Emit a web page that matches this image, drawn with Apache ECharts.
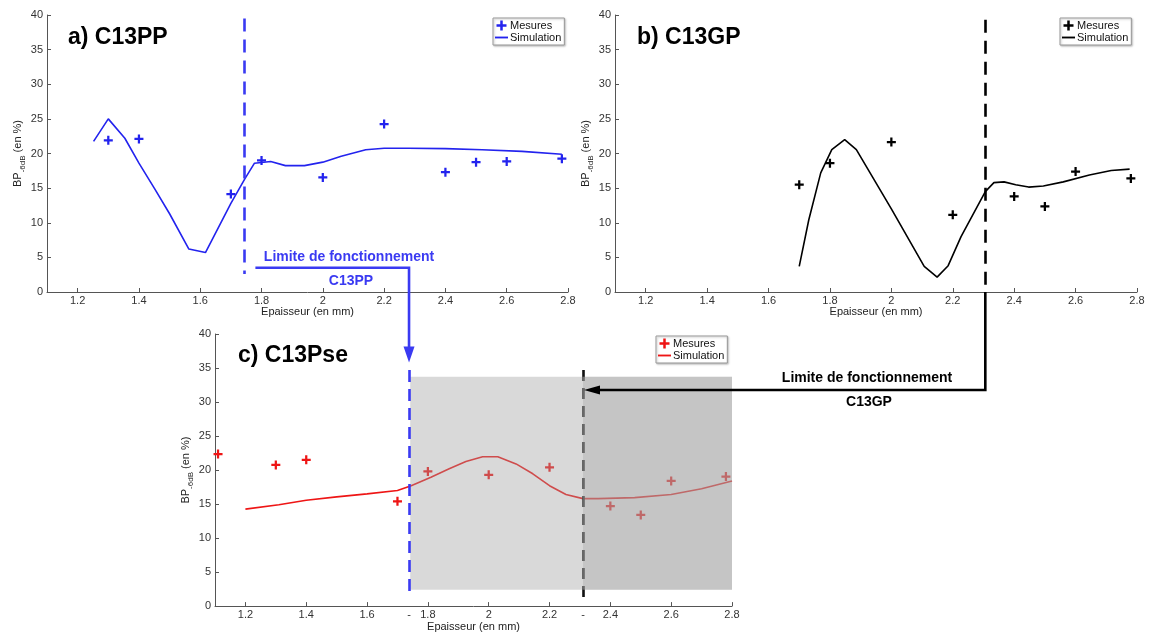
<!DOCTYPE html>
<html><head><meta charset="utf-8">
<script src="https://cdn.jsdelivr.net/npm/echarts@6/dist/echarts.min.js"></script>
<style>html,body{margin:0;padding:0;background:#fff}#c{width:1149px;height:633px}</style>
</head><body><div id="c"></div>
<script>
// ---- tick labels ----
const xTicks = [1.2, 1.4, 1.6, 1.8, 2.0, 2.2, 2.4, 2.6, 2.8];
const cExtraLabels = [1.738, 2.31];
// ---- chart a) C13PP ----
const aMesX = [1.3, 1.4, 1.7, 1.8, 2.0, 2.2, 2.4, 2.5, 2.6, 2.78];
const aMesY = [21.9, 22.1, 14.15, 19.0, 16.55, 24.25, 17.3, 18.75, 18.85, 19.25];
const aSimX = [1.252, 1.3, 1.354, 1.40, 1.45, 1.50, 1.563, 1.617, 1.70, 1.745, 1.777, 1.83, 1.878, 1.94, 2.0, 2.06, 2.14, 2.2, 2.28, 2.4, 2.52, 2.65, 2.78];
const aSimY = [21.75, 25.0, 22.2, 18.6, 15.0, 11.3, 6.2, 5.7, 12.8, 16.3, 18.6, 18.85, 18.25, 18.25, 18.75, 19.6, 20.55, 20.75, 20.75, 20.7, 20.55, 20.3, 19.9];
const aLimit = 1.745;
// ---- chart b) C13GP ----
const bMesX = [1.7, 1.8, 2.0, 2.2, 2.4, 2.5, 2.6, 2.78];
const bMesY = [15.5, 18.6, 21.65, 11.15, 13.8, 12.35, 17.4, 16.4];
const bSimX = [1.70, 1.731, 1.77, 1.806, 1.848, 1.886, 2.0, 2.107, 2.149, 2.185, 2.227, 2.306, 2.334, 2.367, 2.405, 2.447, 2.495, 2.56, 2.645, 2.716, 2.776];
const bSimY = [3.7, 10.4, 17.2, 20.55, 22.0, 20.55, 12.0, 3.7, 2.15, 3.8, 8.0, 14.5, 15.8, 15.9, 15.5, 15.15, 15.3, 15.9, 16.9, 17.55, 17.75];
const bLimit = 2.306;
// ---- chart c) C13Pse ----
const cMesX = [1.11, 1.3, 1.4, 1.7, 1.8, 2.0, 2.2, 2.4, 2.5, 2.6, 2.78];
const cMesY = [22.35, 20.75, 21.5, 15.4, 19.8, 19.3, 20.4, 14.7, 13.4, 18.4, 19.05];
const cSimX = [1.2, 1.31, 1.4, 1.5, 1.6, 1.7, 1.745, 1.81, 1.87, 1.925, 1.98, 2.03, 2.09, 2.145, 2.2, 2.254, 2.31, 2.36, 2.48, 2.6, 2.7, 2.8];
const cSimY = [14.25, 14.9, 15.55, 16.05, 16.5, 17.0, 17.7, 18.95, 20.2, 21.25, 21.95, 21.95, 20.9, 19.45, 17.7, 16.4, 15.8, 15.8, 15.95, 16.4, 17.25, 18.4];
const cLimitPP = 1.738, cLimitGP = 2.31;
const cZoneBottom = 2.4, cZoneTop = 33.7;

const FONT = '"Liberation Sans", Arial, sans-serif';
const BLUE = '#2323ee', BLUE2 = '#3a3af2', RED = '#ee1515', BLACK = '#000';
const PLUS = 'path://M3,0h2v3h3v2h-3v3h-2v-3h-3v-2h3z';
const LINEICON = 'path://M0,0h14v2h-14z';
const zip = (xs, ys) => xs.map((x, i) => [x, ys[i]]);

const grids = [
  {left: 47, top: 15, width: 521, height: 277},
  {left: 615, top: 15, width: 522, height: 277},
  {left: 215, top: 334, width: 517, height: 274}
];
function xAx(i, extra) {
  const labVals = extra ? xTicks.concat(extra) : xTicks;
  return {
    type: 'value', gridIndex: i, min: 1.1, max: 2.8,
    name: 'Epaisseur (en mm)', nameLocation: 'middle', nameGap: 13,
    nameTextStyle: {fontFamily: FONT, fontSize: 11, color: '#222'},
    axisLine: {lineStyle: {color: '#555', width: 1}},
    axisTick: {inside: true, length: 4, customValues: xTicks, lineStyle: {color: '#555'}},
    axisLabel: {customValues: labVals, margin: 3, fontFamily: FONT, fontSize: 11, color: '#333',
      formatter: v => (extra && extra.some(e => Math.abs(e - v) < 1e-6)) ? '-' : String(+v.toFixed(1))},
    splitLine: {show: false}
  };
}
function yAx(i, gap) {
  return {
    type: 'value', gridIndex: i, min: 0, max: 40, interval: 5,
    name: '{m|BP}{s|-6dB}{m| (en %)}', nameLocation: 'middle', nameGap: gap,
    nameTextStyle: {fontFamily: FONT, color: '#222', rich: {
      m: {fontFamily: FONT, fontSize: 11, lineHeight: 18, color: '#222'},
      s: {fontFamily: FONT, fontSize: 8, lineHeight: 9, verticalAlign: 'bottom', color: '#222'}}},
    axisLine: {show: true, lineStyle: {color: '#555', width: 1}},
    axisTick: {show: true, inside: true, length: 4, lineStyle: {color: '#555'}},
    axisLabel: {margin: 4, fontFamily: FONT, fontSize: 11, color: '#333'},
    splitLine: {show: false}
  };
}
function legend(left, top, suffix) {
  return {
    left, top, orient: 'vertical', padding: [2, 3, 2, 2], itemGap: 1,
    itemWidth: 13, itemHeight: 10, borderColor: '#999', borderWidth: 1, backgroundColor: '#fff',
    shadowColor: 'rgba(0,0,0,0.25)', shadowBlur: 2, shadowOffsetX: 1, shadowOffsetY: 1,
    data: [{name: 'Mesures' + suffix, icon: PLUS}, {name: 'Simulation' + suffix, icon: LINEICON}],
    formatter: n => n.split('_')[0],
    textStyle: {fontFamily: FONT, fontSize: 11, color: '#111', padding: [0, 0, 0, -3]},
    selectedMode: false
  };
}
function vline(x, y0, y1, color, width, dash, z) {
  return {silent: true, symbol: 'none', z: z || 5, animation: false, label: {show: false},
    lineStyle: {color, width, type: dash, opacity: 1},
    data: [[{coord: [x, y0]}, {coord: [x, y1]}]]};
}

const option = {
  animation: false,
  title: [
    {text: 'a) C13PP', left: 63, top: 21, textStyle: {fontFamily: FONT, fontSize: 23, fontWeight: 'bold', color: '#000'}},
    {text: 'b) C13GP', left: 632, top: 21, textStyle: {fontFamily: FONT, fontSize: 23, fontWeight: 'bold', color: '#000'}},
    {text: 'c) C13Pse', left: 233, top: 339, textStyle: {fontFamily: FONT, fontSize: 23, fontWeight: 'bold', color: '#000'}}
  ],
  grid: grids,
  xAxis: [xAx(0), xAx(1), xAx(2, cExtraLabels)],
  yAxis: [yAx(0, 20), yAx(1, 18), yAx(2, 19)],
  legend: [legend(493, 18, '_a'), legend(1060, 18, '_b'), legend(656, 336, '_c')],
  series: [
    {name: 'Simulation_a', type: 'line', xAxisIndex: 0, yAxisIndex: 0, data: zip(aSimX, aSimY), symbol: 'none',
      lineStyle: {color: BLUE, width: 1.6}, itemStyle: {color: BLUE},
      markLine: vline(aLimit, 39.5, 2.6, BLUE2, 2.6, [13, 8])},
    {name: 'Mesures_a', type: 'scatter', xAxisIndex: 0, yAxisIndex: 0, data: zip(aMesX, aMesY), symbol: PLUS, symbolSize: 9,
      itemStyle: {color: BLUE, opacity: 1}},
    {name: 'Simulation_b', type: 'line', xAxisIndex: 1, yAxisIndex: 1, data: zip(bSimX, bSimY), symbol: 'none',
      lineStyle: {color: BLACK, width: 1.6}, itemStyle: {color: BLACK},
      markLine: vline(bLimit, 39.3, 0, BLACK, 2.6, [13, 8])},
    {name: 'Mesures_b', type: 'scatter', xAxisIndex: 1, yAxisIndex: 1, data: zip(bMesX, bMesY), symbol: PLUS, symbolSize: 9,
      itemStyle: {color: BLACK, opacity: 1}},
    {name: 'Simulation_c', type: 'line', xAxisIndex: 2, yAxisIndex: 2, data: zip(cSimX, cSimY), symbol: 'none',
      lineStyle: {color: RED, width: 1.6}, itemStyle: {color: RED},
      markLine: vline(cLimitGP, 34.7, 1.2, '#111', 2.6, [11, 7])},
    {name: 'Mesures_c', type: 'scatter', xAxisIndex: 2, yAxisIndex: 2, data: zip(cMesX, cMesY), symbol: PLUS, symbolSize: 9,
      itemStyle: {color: RED, opacity: 1}},
    {name: 'zones', type: 'scatter', xAxisIndex: 2, yAxisIndex: 2, data: [], z: 10, silent: true,
      markArea: {silent: true, z: 10, label: {show: false},
        itemStyle: {color: 'rgba(160,160,160,0.4)'},
        data: [
          [{coord: [cLimitPP + 0.004, cZoneBottom]}, {coord: [2.8, cZoneTop]}],
          [{coord: [cLimitGP, cZoneBottom]}, {coord: [2.8, cZoneTop], itemStyle: {color: 'rgba(160,160,160,0.35)'}}]
        ]},
      markLine: vline(cLimitPP, 34.7, 1.2, BLUE2, 2.6, [12, 7], 20)}
  ]
};
const chart = echarts.init(document.getElementById('c'), null, {renderer: 'canvas'});
chart.setOption(option);

// annotations (arrows between the panels)
const pa = chart.convertToPixel({gridIndex: 0}, [1.78, 3.5]);
const pcPP = chart.convertToPixel({gridIndex: 2}, [cLimitPP, 35.8]);
const pbGP = chart.convertToPixel({gridIndex: 1}, [bLimit, 0]);
const pcGP = chart.convertToPixel({gridIndex: 2}, [cLimitGP, 0]);
const yArrowGP = 390;
chart.setOption({graphic: [
  {type: 'polyline', z: 30, shape: {points: [[pa[0], pa[1]], [pcPP[0], pa[1]], [pcPP[0], pcPP[1] - 14]]},
    style: {stroke: BLUE2, lineWidth: 2.6, fill: null}},
  {type: 'polygon', z: 30, shape: {points: [[pcPP[0] - 5.5, pcPP[1] - 16], [pcPP[0] + 5.5, pcPP[1] - 16], [pcPP[0], pcPP[1]]]},
    style: {fill: BLUE2}},
  {type: 'text', z: 30, style: {text: 'Limite de fonctionnement', x: 349, y: 257, align: 'center', verticalAlign: 'middle',
    font: 'bold 14px ' + FONT, fill: BLUE2}},
  {type: 'text', z: 30, style: {text: 'C13PP', x: 351, y: 281, align: 'center', verticalAlign: 'middle',
    font: 'bold 14px ' + FONT, fill: BLUE2}},
  {type: 'polyline', z: 30, shape: {points: [[pbGP[0], pbGP[1]], [pbGP[0], yArrowGP], [pcGP[0] + 16, yArrowGP]]},
    style: {stroke: '#000', lineWidth: 2.6, fill: null}},
  {type: 'polygon', z: 30, shape: {points: [[pcGP[0] + 1, yArrowGP], [pcGP[0] + 17, yArrowGP - 4.5], [pcGP[0] + 17, yArrowGP + 4.5]]},
    style: {fill: '#000'}},
  {type: 'text', z: 30, style: {text: 'Limite de fonctionnement', x: 867, y: 378, align: 'center', verticalAlign: 'middle',
    font: 'bold 14px ' + FONT, fill: '#000'}},
  {type: 'text', z: 30, style: {text: 'C13GP', x: 869, y: 402, align: 'center', verticalAlign: 'middle',
    font: 'bold 14px ' + FONT, fill: '#000'}}
]});
</script></body></html>
